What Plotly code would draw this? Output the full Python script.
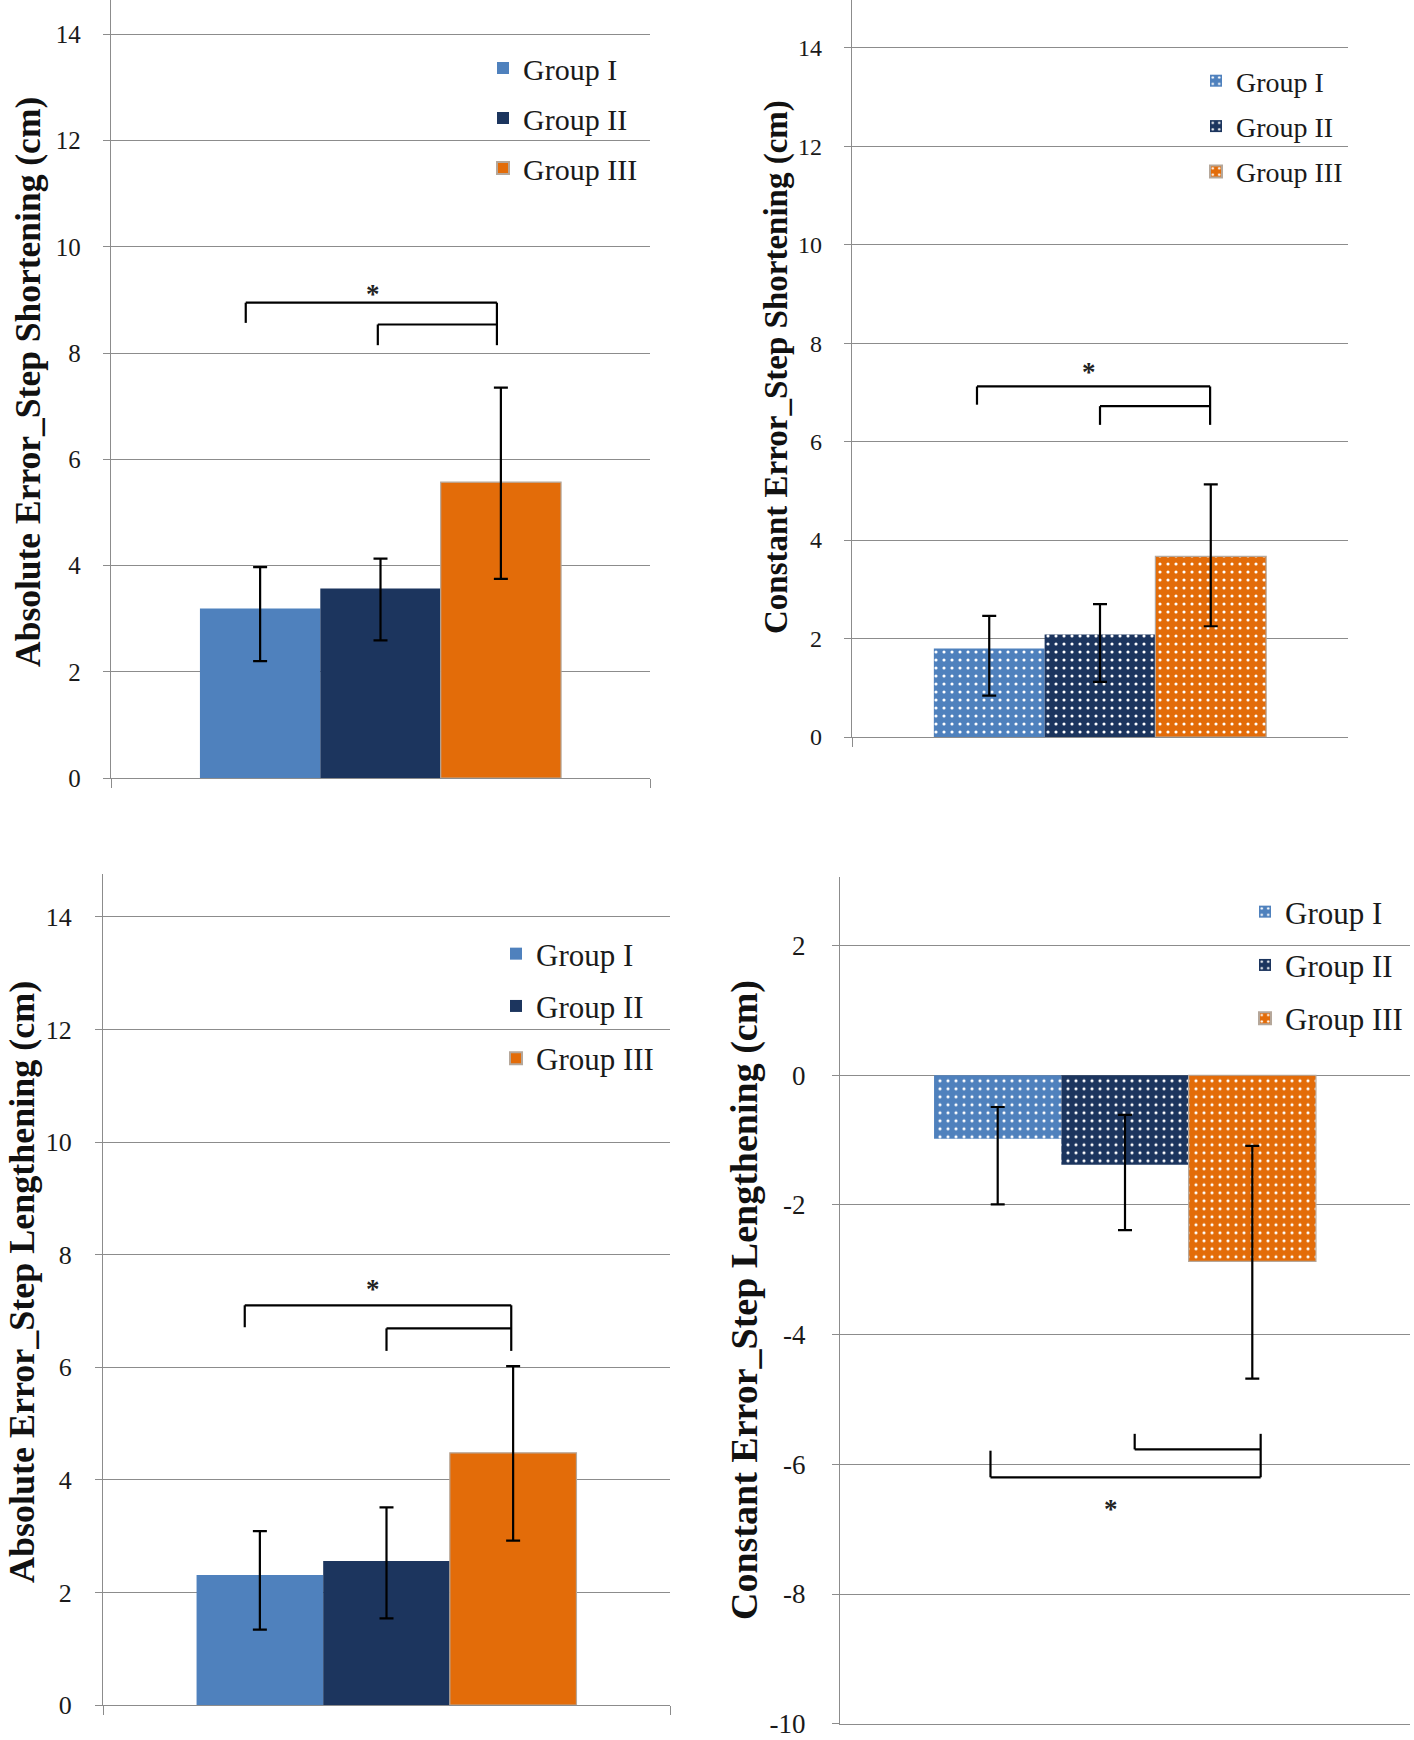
import plotly.graph_objects as go

# ---------------- data ----------------
groups = ["Group I", "Group II", "Group III"]
colors = ["#4F81BD", "#1C355E", "#E36C09"]

# Absolute Error - Step Shortening
ae_short_mean = [3.19, 3.57, 5.57]
ae_short_up = [0.78, 0.56, 1.78]
ae_short_down = [0.99, 0.98, 1.82]

# Constant Error - Step Shortening
ce_short_mean = [1.80, 2.08, 3.67]
ce_short_up = [0.66, 0.62, 1.46]
ce_short_down = [0.96, 0.96, 1.42]

# Absolute Error - Step Lengthening
ae_long_mean = [2.31, 2.56, 4.48]
ae_long_up = [0.78, 0.95, 1.54]
ae_long_down = [0.97, 1.02, 1.56]

# Constant Error - Step Lengthening
ce_long_mean = [-0.98, -1.38, -2.87]
ce_long_up = [0.49, 0.77, 1.78]
ce_long_down = [1.01, 1.01, 1.81]

y_titles = [
    "Absolute Error_Step Shortening (cm)",
    "Constant Error_Step Shortening (cm)",
    "Absolute Error_Step Lengthening (cm)",
    "Constant Error_Step Lengthening (cm)",
]

pos_ticks = [0, 2, 4, 6, 8, 10, 12, 14]
pos_tick_labels = ["0", "2", "4", "6", "8", "10", "12", "14"]
neg_ticks = [-10, -8, -6, -4, -2, 0, 2]
neg_tick_labels = ["-10", "-8", "-6", "-4", "-2", "0", "2"]

# significance brackets: (outer level, outer-left end, right end, inner level, inner-left end, star level)
brackets = [
    (8.95, 8.57, 8.15, 8.54, 8.15, 9.22),
    (7.12, 6.75, 6.34, 6.72, 6.34, 7.53),
    (7.10, 6.71, 6.29, 6.69, 6.29, 7.50),
    (-6.20, -5.79, -5.53, -5.77, -5.53, -6.59),
]

# ---------------- layout config ----------------
W, H = 1414, 1740
panels = [
    dict(means=ae_short_mean, up=ae_short_up, down=ae_short_down, pattern=False,
         ticks=pos_ticks, labels=pos_tick_labels,
         xdom=(111, 650), ybot=778, ytop=0, yrange=(0, 14.65),
         title_xy=(28, 382), title_size=35.5, tick_size=25, standoff=17,
         xticks=[-0.5, 0.5], yticklen=7,
         leg_xy=(505, 66), leg_size=30, leg_gap=8,
         bx=(-0.25, -0.005, 0.216), star_x=-0.014),
    dict(means=ce_short_mean, up=ce_short_up, down=ce_short_down, pattern=True,
         ticks=pos_ticks, labels=pos_tick_labels,
         xdom=(852, 1348), ybot=737, ytop=0, yrange=(0, 14.97),
         title_xy=(777, 367), title_size=33, tick_size=24, standoff=17,
         xticks=[-0.5], yticklen=7,
         leg_xy=(1218, 80), leg_size=28, leg_gap=6,
         bx=(-0.248, 0.0, 0.222), star_x=-0.022),
    dict(means=ae_long_mean, up=ae_long_up, down=ae_long_down, pattern=False,
         ticks=pos_ticks, labels=pos_tick_labels,
         xdom=(103, 670), ybot=1705, ytop=873.5, yrange=(0, 14.77),
         title_xy=(22, 1282), title_size=36, tick_size=26, standoff=18,
         xticks=[-0.5, 0.5], yticklen=7,
         leg_xy=(518, 951), leg_size=31, leg_gap=9,
         bx=(-0.25, 0.0, 0.22), star_x=-0.024),
    dict(means=ce_long_mean, up=ce_long_up, down=ce_long_down, pattern=True,
         ticks=neg_ticks, labels=neg_tick_labels,
         xdom=(840, 1410), ybot=1723.7, ytop=876.8, yrange=(-10, 3.06),
         title_xy=(744, 1300), title_size=38, tick_size=27, standoff=21,
         xticks=[], yticklen=7,
         leg_xy=(1267, 909), leg_size=31, leg_gap=10,
         bx=(-0.236, 0.017, 0.238), star_x=-0.024),
]

FONT = "Liberation Serif"
GRID = "#8C8C8C"

fig = go.Figure()
layout_updates = {}
shapes = []
annotations = []

for i, p in enumerate(panels):
    n = i + 1
    xa = "x" if n == 1 else f"x{n}"
    ya = "y" if n == 1 else f"y{n}"
    leg = "legend" if n == 1 else f"legend{n}"
    for g in range(3):
        marker = dict(color=colors[g])
        if g == 2:
            marker["line"] = dict(color="#B5A79A", width=1.2)
        else:
            marker["line"] = dict(width=0)
        if p["pattern"]:
            marker["pattern"] = dict(shape=".", fgcolor="white", bgcolor=colors[g],
                                     size=8, solidity=0.12, fillmode="replace")
        fig.add_trace(go.Bar(
            x=[0], y=[p["means"][g]], name=groups[g],
            marker=marker, xaxis=xa, yaxis=ya, legend=leg,
            legendgroup=f"{n}-{g}", offsetgroup=str(g),
            error_y=dict(type="data", symmetric=False,
                         array=[p["up"][g]], arrayminus=[p["down"][g]],
                         color="black", thickness=2.2, width=7),
        ))

    x0, x1 = p["xdom"]
    xkey = "xaxis" if n == 1 else f"xaxis{n}"
    ykey = "yaxis" if n == 1 else f"yaxis{n}"
    layout_updates[xkey] = dict(
        domain=[x0 / W, x1 / W], anchor=ya, range=[-0.5, 0.5],
        showgrid=False, zeroline=False, showticklabels=False,
        showline=True, linecolor=GRID, linewidth=1.3,
        tickmode="array", tickvals=p["xticks"], ticks="outside" if p["xticks"] else "",
        ticklen=9, tickcolor=GRID, tickwidth=1.3, fixedrange=True,
    )
    layout_updates[ykey] = dict(
        domain=[1 - p["ybot"] / H, 1 - p["ytop"] / H], anchor=xa,
        range=list(p["yrange"]), tickmode="array",
        tickvals=p["ticks"], ticktext=p["labels"],
        showgrid=True, gridcolor=GRID, gridwidth=1.3, zeroline=False,
        showline=True, linecolor=GRID, linewidth=1.3,
        ticks="outside", ticklen=p["yticklen"],
        tickcolor=GRID, tickwidth=1.3,
        tickfont=dict(family=FONT, size=p["tick_size"], color="#1a1a1a"),
        ticklabelstandoff=p["standoff"], automargin=False,
    )
    lx, ly = p["leg_xy"]
    layout_updates[leg] = dict(
        x=(lx - 22) / W, y=1 - (ly - 24) / H, xanchor="left", yanchor="top",
        bgcolor="rgba(0,0,0,0)", borderwidth=0,
        font=dict(family=FONT, size=p["leg_size"], color="#1a1a1a"),
        tracegroupgap=p["leg_gap"], itemsizing="constant",
    )

    # significance brackets
    ol, ole, re_, il, ile, sy = brackets[i]
    bl, bm, br = p["bx"]
    line = dict(color="black", width=2.2)
    shapes += [
        dict(type="line", xref=xa, yref=ya, x0=bl, x1=br, y0=ol, y1=ol, line=line),
        dict(type="line", xref=xa, yref=ya, x0=bl, x1=bl, y0=ol, y1=ole, line=line),
        dict(type="line", xref=xa, yref=ya, x0=br, x1=br, y0=ol, y1=re_, line=line),
        dict(type="line", xref=xa, yref=ya, x0=bm, x1=br, y0=il, y1=il, line=line),
        dict(type="line", xref=xa, yref=ya, x0=bm, x1=bm, y0=il, y1=ile, line=line),
    ]
    annotations.append(dict(
        x=p["star_x"], y=sy, xref=xa, yref=ya, text="<b>*</b>", showarrow=False,
        font=dict(family=FONT, size=27, color="#222"), xanchor="center", yanchor="middle",
        yshift=-6,
    ))
    tx, ty = p["title_xy"]
    annotations.append(dict(
        x=tx / W, y=1 - ty / H, xref="paper", yref="paper", text=f"<b>{y_titles[i]}</b>",
        textangle=-90, showarrow=False, xanchor="center", yanchor="middle",
        font=dict(family=FONT, size=p["title_size"], color="#111"),
    ))

fig.update_layout(
    width=W, height=H, margin=dict(l=0, r=0, t=0, b=0, autoexpand=False),
    paper_bgcolor="white", plot_bgcolor="white",
    barmode="group", bargap=0.33, bargroupgap=0,
    showlegend=True, shapes=shapes, annotations=annotations,
    **layout_updates,
)

fig.write_html(
    "out.html",
    config={"displayModeBar": False},
    post_script="document.body.style.margin='0px';document.body.style.overflow='hidden';",
)
